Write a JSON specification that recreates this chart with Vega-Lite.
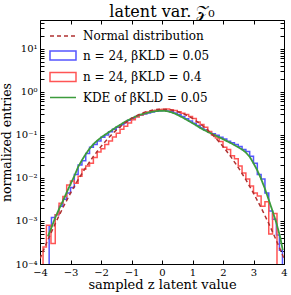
{
  "$schema": "https://vega.github.io/schema/vega-lite/v6.json",
  "width": 244,
  "height": 244,
  "autosize": {"type": "none"},
  "padding": {"left": 40, "top": 20, "right": 7, "bottom": 31},
  "title": {"text": "latent var. 𝒵₀", "fontSize": 16, "font": "DejaVu Serif", "fontWeight": "normal", "color": "#000", "offset": 3, "dy": 5},
  "datasets": {
    "hb": [
      {"s": "n = 24, βKLD = 0.05", "i": 0, "x": -3.7, "y": 0.000001},
      {"s": "n = 24, βKLD = 0.05", "i": 1, "x": -3.7, "y": 0.00075},
      {"s": "n = 24, βKLD = 0.05", "i": 2, "x": -3.625, "y": 0.0012},
      {"s": "n = 24, βKLD = 0.05", "i": 3, "x": -3.5, "y": 0.0014},
      {"s": "n = 24, βKLD = 0.05", "i": 4, "x": -3.375, "y": 0.0022},
      {"s": "n = 24, βKLD = 0.05", "i": 5, "x": -3.25, "y": 0.0032},
      {"s": "n = 24, βKLD = 0.05", "i": 6, "x": -3.125, "y": 0.0045},
      {"s": "n = 24, βKLD = 0.05", "i": 7, "x": -3.0, "y": 0.006},
      {"s": "n = 24, βKLD = 0.05", "i": 8, "x": -2.875, "y": 0.012},
      {"s": "n = 24, βKLD = 0.05", "i": 9, "x": -2.75, "y": 0.02},
      {"s": "n = 24, βKLD = 0.05", "i": 10, "x": -2.625, "y": 0.025},
      {"s": "n = 24, βKLD = 0.05", "i": 11, "x": -2.5, "y": 0.037},
      {"s": "n = 24, βKLD = 0.05", "i": 12, "x": -2.375, "y": 0.052},
      {"s": "n = 24, βKLD = 0.05", "i": 13, "x": -2.25, "y": 0.06},
      {"s": "n = 24, βKLD = 0.05", "i": 14, "x": -2.125, "y": 0.072},
      {"s": "n = 24, βKLD = 0.05", "i": 15, "x": -2.0, "y": 0.088},
      {"s": "n = 24, βKLD = 0.05", "i": 16, "x": -1.875, "y": 0.1},
      {"s": "n = 24, βKLD = 0.05", "i": 17, "x": -1.75, "y": 0.118},
      {"s": "n = 24, βKLD = 0.05", "i": 18, "x": -1.625, "y": 0.135},
      {"s": "n = 24, βKLD = 0.05", "i": 19, "x": -1.5, "y": 0.15},
      {"s": "n = 24, βKLD = 0.05", "i": 20, "x": -1.375, "y": 0.172},
      {"s": "n = 24, βKLD = 0.05", "i": 21, "x": -1.25, "y": 0.193},
      {"s": "n = 24, βKLD = 0.05", "i": 22, "x": -1.125, "y": 0.22},
      {"s": "n = 24, βKLD = 0.05", "i": 23, "x": -1.0, "y": 0.243},
      {"s": "n = 24, βKLD = 0.05", "i": 24, "x": -0.875, "y": 0.268},
      {"s": "n = 24, βKLD = 0.05", "i": 25, "x": -0.75, "y": 0.288},
      {"s": "n = 24, βKLD = 0.05", "i": 26, "x": -0.625, "y": 0.305},
      {"s": "n = 24, βKLD = 0.05", "i": 27, "x": -0.5, "y": 0.325},
      {"s": "n = 24, βKLD = 0.05", "i": 28, "x": -0.375, "y": 0.34},
      {"s": "n = 24, βKLD = 0.05", "i": 29, "x": -0.25, "y": 0.355},
      {"s": "n = 24, βKLD = 0.05", "i": 30, "x": -0.125, "y": 0.365},
      {"s": "n = 24, βKLD = 0.05", "i": 31, "x": 0.0, "y": 0.368},
      {"s": "n = 24, βKLD = 0.05", "i": 32, "x": 0.125, "y": 0.36},
      {"s": "n = 24, βKLD = 0.05", "i": 33, "x": 0.25, "y": 0.345},
      {"s": "n = 24, βKLD = 0.05", "i": 34, "x": 0.375, "y": 0.322},
      {"s": "n = 24, βKLD = 0.05", "i": 35, "x": 0.5, "y": 0.298},
      {"s": "n = 24, βKLD = 0.05", "i": 36, "x": 0.625, "y": 0.268},
      {"s": "n = 24, βKLD = 0.05", "i": 37, "x": 0.75, "y": 0.238},
      {"s": "n = 24, βKLD = 0.05", "i": 38, "x": 0.875, "y": 0.212},
      {"s": "n = 24, βKLD = 0.05", "i": 39, "x": 1.0, "y": 0.188},
      {"s": "n = 24, βKLD = 0.05", "i": 40, "x": 1.125, "y": 0.165},
      {"s": "n = 24, βKLD = 0.05", "i": 41, "x": 1.25, "y": 0.146},
      {"s": "n = 24, βKLD = 0.05", "i": 42, "x": 1.375, "y": 0.13},
      {"s": "n = 24, βKLD = 0.05", "i": 43, "x": 1.5, "y": 0.117},
      {"s": "n = 24, βKLD = 0.05", "i": 44, "x": 1.625, "y": 0.106},
      {"s": "n = 24, βKLD = 0.05", "i": 45, "x": 1.75, "y": 0.098},
      {"s": "n = 24, βKLD = 0.05", "i": 46, "x": 1.875, "y": 0.088},
      {"s": "n = 24, βKLD = 0.05", "i": 47, "x": 2.0, "y": 0.08},
      {"s": "n = 24, βKLD = 0.05", "i": 48, "x": 2.125, "y": 0.071},
      {"s": "n = 24, βKLD = 0.05", "i": 49, "x": 2.25, "y": 0.066},
      {"s": "n = 24, βKLD = 0.05", "i": 50, "x": 2.375, "y": 0.06},
      {"s": "n = 24, βKLD = 0.05", "i": 51, "x": 2.5, "y": 0.054},
      {"s": "n = 24, βKLD = 0.05", "i": 52, "x": 2.625, "y": 0.046},
      {"s": "n = 24, βKLD = 0.05", "i": 53, "x": 2.75, "y": 0.041},
      {"s": "n = 24, βKLD = 0.05", "i": 54, "x": 2.875, "y": 0.032},
      {"s": "n = 24, βKLD = 0.05", "i": 55, "x": 3.0, "y": 0.022},
      {"s": "n = 24, βKLD = 0.05", "i": 56, "x": 3.125, "y": 0.012},
      {"s": "n = 24, βKLD = 0.05", "i": 57, "x": 3.25, "y": 0.0095},
      {"s": "n = 24, βKLD = 0.05", "i": 58, "x": 3.375, "y": 0.0045},
      {"s": "n = 24, βKLD = 0.05", "i": 59, "x": 3.5, "y": 0.0017},
      {"s": "n = 24, βKLD = 0.05", "i": 60, "x": 3.625, "y": 0.0011},
      {"s": "n = 24, βKLD = 0.05", "i": 61, "x": 3.75, "y": 0.00047},
      {"s": "n = 24, βKLD = 0.05", "i": 62, "x": 3.85, "y": 0.00021},
      {"s": "n = 24, βKLD = 0.05", "i": 63, "x": 3.95, "y": 0.00021},
      {"s": "n = 24, βKLD = 0.05", "i": 64, "x": 3.95, "y": 0.000001}
    ],
    "hr": [
      {"s": "n = 24, βKLD = 0.4", "i": 0, "x": -3.9, "y": 0.000001},
      {"s": "n = 24, βKLD = 0.4", "i": 1, "x": -3.9, "y": 0.00025},
      {"s": "n = 24, βKLD = 0.4", "i": 2, "x": -3.79, "y": 0.0008},
      {"s": "n = 24, βKLD = 0.4", "i": 3, "x": -3.64, "y": 0.0003},
      {"s": "n = 24, βKLD = 0.4", "i": 4, "x": -3.5, "y": 0.0014},
      {"s": "n = 24, βKLD = 0.4", "i": 5, "x": -3.375, "y": 0.0026},
      {"s": "n = 24, βKLD = 0.4", "i": 6, "x": -3.25, "y": 0.0037},
      {"s": "n = 24, βKLD = 0.4", "i": 7, "x": -3.125, "y": 0.0069},
      {"s": "n = 24, βKLD = 0.4", "i": 8, "x": -3.0, "y": 0.0085},
      {"s": "n = 24, βKLD = 0.4", "i": 9, "x": -2.875, "y": 0.0075},
      {"s": "n = 24, βKLD = 0.4", "i": 10, "x": -2.75, "y": 0.011},
      {"s": "n = 24, βKLD = 0.4", "i": 11, "x": -2.625, "y": 0.016},
      {"s": "n = 24, βKLD = 0.4", "i": 12, "x": -2.5, "y": 0.019},
      {"s": "n = 24, βKLD = 0.4", "i": 13, "x": -2.375, "y": 0.022},
      {"s": "n = 24, βKLD = 0.4", "i": 14, "x": -2.25, "y": 0.03},
      {"s": "n = 24, βKLD = 0.4", "i": 15, "x": -2.125, "y": 0.04},
      {"s": "n = 24, βKLD = 0.4", "i": 16, "x": -2.0, "y": 0.048},
      {"s": "n = 24, βKLD = 0.4", "i": 17, "x": -1.875, "y": 0.06},
      {"s": "n = 24, βKLD = 0.4", "i": 18, "x": -1.75, "y": 0.072},
      {"s": "n = 24, βKLD = 0.4", "i": 19, "x": -1.625, "y": 0.09},
      {"s": "n = 24, βKLD = 0.4", "i": 20, "x": -1.5, "y": 0.11},
      {"s": "n = 24, βKLD = 0.4", "i": 21, "x": -1.375, "y": 0.135},
      {"s": "n = 24, βKLD = 0.4", "i": 22, "x": -1.25, "y": 0.16},
      {"s": "n = 24, βKLD = 0.4", "i": 23, "x": -1.125, "y": 0.19},
      {"s": "n = 24, βKLD = 0.4", "i": 24, "x": -1.0, "y": 0.225},
      {"s": "n = 24, βKLD = 0.4", "i": 25, "x": -0.875, "y": 0.26},
      {"s": "n = 24, βKLD = 0.4", "i": 26, "x": -0.75, "y": 0.29},
      {"s": "n = 24, βKLD = 0.4", "i": 27, "x": -0.625, "y": 0.315},
      {"s": "n = 24, βKLD = 0.4", "i": 28, "x": -0.5, "y": 0.34},
      {"s": "n = 24, βKLD = 0.4", "i": 29, "x": -0.375, "y": 0.36},
      {"s": "n = 24, βKLD = 0.4", "i": 30, "x": -0.25, "y": 0.375},
      {"s": "n = 24, βKLD = 0.4", "i": 31, "x": -0.125, "y": 0.39},
      {"s": "n = 24, βKLD = 0.4", "i": 32, "x": 0.0, "y": 0.395},
      {"s": "n = 24, βKLD = 0.4", "i": 33, "x": 0.125, "y": 0.4},
      {"s": "n = 24, βKLD = 0.4", "i": 34, "x": 0.25, "y": 0.385},
      {"s": "n = 24, βKLD = 0.4", "i": 35, "x": 0.375, "y": 0.37},
      {"s": "n = 24, βKLD = 0.4", "i": 36, "x": 0.5, "y": 0.345},
      {"s": "n = 24, βKLD = 0.4", "i": 37, "x": 0.625, "y": 0.32},
      {"s": "n = 24, βKLD = 0.4", "i": 38, "x": 0.75, "y": 0.3},
      {"s": "n = 24, βKLD = 0.4", "i": 39, "x": 0.875, "y": 0.27},
      {"s": "n = 24, βKLD = 0.4", "i": 40, "x": 1.0, "y": 0.24},
      {"s": "n = 24, βKLD = 0.4", "i": 41, "x": 1.125, "y": 0.2},
      {"s": "n = 24, βKLD = 0.4", "i": 42, "x": 1.25, "y": 0.175},
      {"s": "n = 24, βKLD = 0.4", "i": 43, "x": 1.375, "y": 0.15},
      {"s": "n = 24, βKLD = 0.4", "i": 44, "x": 1.5, "y": 0.12},
      {"s": "n = 24, βKLD = 0.4", "i": 45, "x": 1.625, "y": 0.1},
      {"s": "n = 24, βKLD = 0.4", "i": 46, "x": 1.75, "y": 0.085},
      {"s": "n = 24, βKLD = 0.4", "i": 47, "x": 1.875, "y": 0.07},
      {"s": "n = 24, βKLD = 0.4", "i": 48, "x": 2.0, "y": 0.052},
      {"s": "n = 24, βKLD = 0.4", "i": 49, "x": 2.125, "y": 0.046},
      {"s": "n = 24, βKLD = 0.4", "i": 50, "x": 2.25, "y": 0.033},
      {"s": "n = 24, βKLD = 0.4", "i": 51, "x": 2.375, "y": 0.028},
      {"s": "n = 24, βKLD = 0.4", "i": 52, "x": 2.5, "y": 0.019},
      {"s": "n = 24, βKLD = 0.4", "i": 53, "x": 2.625, "y": 0.013},
      {"s": "n = 24, βKLD = 0.4", "i": 54, "x": 2.75, "y": 0.0095},
      {"s": "n = 24, βKLD = 0.4", "i": 55, "x": 2.875, "y": 0.0065},
      {"s": "n = 24, βKLD = 0.4", "i": 56, "x": 3.0, "y": 0.0045},
      {"s": "n = 24, βKLD = 0.4", "i": 57, "x": 3.125, "y": 0.0038},
      {"s": "n = 24, βKLD = 0.4", "i": 58, "x": 3.25, "y": 0.0022},
      {"s": "n = 24, βKLD = 0.4", "i": 59, "x": 3.375, "y": 0.0028},
      {"s": "n = 24, βKLD = 0.4", "i": 60, "x": 3.5, "y": 0.0005},
      {"s": "n = 24, βKLD = 0.4", "i": 61, "x": 3.625, "y": 0.0015},
      {"s": "n = 24, βKLD = 0.4", "i": 62, "x": 3.77, "y": 0.0015},
      {"s": "n = 24, βKLD = 0.4", "i": 63, "x": 3.77, "y": 0.000001}
    ],
    "kde": [
      {"s": "KDE of βKLD = 0.05", "i": 0, "x": -3.74, "y": 0.00044},
      {"s": "KDE of βKLD = 0.05", "i": 1, "x": -3.625, "y": 0.0007},
      {"s": "KDE of βKLD = 0.05", "i": 2, "x": -3.5, "y": 0.0012},
      {"s": "KDE of βKLD = 0.05", "i": 3, "x": -3.375, "y": 0.0019},
      {"s": "KDE of βKLD = 0.05", "i": 4, "x": -3.25, "y": 0.0029},
      {"s": "KDE of βKLD = 0.05", "i": 5, "x": -3.125, "y": 0.0046},
      {"s": "KDE of βKLD = 0.05", "i": 6, "x": -3.0, "y": 0.0072},
      {"s": "KDE of βKLD = 0.05", "i": 7, "x": -2.875, "y": 0.011},
      {"s": "KDE of βKLD = 0.05", "i": 8, "x": -2.75, "y": 0.018},
      {"s": "KDE of βKLD = 0.05", "i": 9, "x": -2.625, "y": 0.026},
      {"s": "KDE of βKLD = 0.05", "i": 10, "x": -2.5, "y": 0.036},
      {"s": "KDE of βKLD = 0.05", "i": 11, "x": -2.375, "y": 0.048},
      {"s": "KDE of βKLD = 0.05", "i": 12, "x": -2.25, "y": 0.061},
      {"s": "KDE of βKLD = 0.05", "i": 13, "x": -2.125, "y": 0.074},
      {"s": "KDE of βKLD = 0.05", "i": 14, "x": -2.0, "y": 0.087},
      {"s": "KDE of βKLD = 0.05", "i": 15, "x": -1.875, "y": 0.101},
      {"s": "KDE of βKLD = 0.05", "i": 16, "x": -1.75, "y": 0.115},
      {"s": "KDE of βKLD = 0.05", "i": 17, "x": -1.625, "y": 0.132},
      {"s": "KDE of βKLD = 0.05", "i": 18, "x": -1.5, "y": 0.152},
      {"s": "KDE of βKLD = 0.05", "i": 19, "x": -1.375, "y": 0.172},
      {"s": "KDE of βKLD = 0.05", "i": 20, "x": -1.25, "y": 0.194},
      {"s": "KDE of βKLD = 0.05", "i": 21, "x": -1.125, "y": 0.218},
      {"s": "KDE of βKLD = 0.05", "i": 22, "x": -1.0, "y": 0.242},
      {"s": "KDE of βKLD = 0.05", "i": 23, "x": -0.875, "y": 0.266},
      {"s": "KDE of βKLD = 0.05", "i": 24, "x": -0.75, "y": 0.289},
      {"s": "KDE of βKLD = 0.05", "i": 25, "x": -0.625, "y": 0.308},
      {"s": "KDE of βKLD = 0.05", "i": 26, "x": -0.5, "y": 0.325},
      {"s": "KDE of βKLD = 0.05", "i": 27, "x": -0.375, "y": 0.34},
      {"s": "KDE of βKLD = 0.05", "i": 28, "x": -0.25, "y": 0.353},
      {"s": "KDE of βKLD = 0.05", "i": 29, "x": -0.125, "y": 0.362},
      {"s": "KDE of βKLD = 0.05", "i": 30, "x": 0.0, "y": 0.366},
      {"s": "KDE of βKLD = 0.05", "i": 31, "x": 0.125, "y": 0.36},
      {"s": "KDE of βKLD = 0.05", "i": 32, "x": 0.25, "y": 0.346},
      {"s": "KDE of βKLD = 0.05", "i": 33, "x": 0.375, "y": 0.323},
      {"s": "KDE of βKLD = 0.05", "i": 34, "x": 0.5, "y": 0.296},
      {"s": "KDE of βKLD = 0.05", "i": 35, "x": 0.625, "y": 0.266},
      {"s": "KDE of βKLD = 0.05", "i": 36, "x": 0.75, "y": 0.237},
      {"s": "KDE of βKLD = 0.05", "i": 37, "x": 0.875, "y": 0.211},
      {"s": "KDE of βKLD = 0.05", "i": 38, "x": 1.0, "y": 0.188},
      {"s": "KDE of βKLD = 0.05", "i": 39, "x": 1.125, "y": 0.166},
      {"s": "KDE of βKLD = 0.05", "i": 40, "x": 1.25, "y": 0.147},
      {"s": "KDE of βKLD = 0.05", "i": 41, "x": 1.375, "y": 0.131},
      {"s": "KDE of βKLD = 0.05", "i": 42, "x": 1.5, "y": 0.118},
      {"s": "KDE of βKLD = 0.05", "i": 43, "x": 1.625, "y": 0.107},
      {"s": "KDE of βKLD = 0.05", "i": 44, "x": 1.75, "y": 0.097},
      {"s": "KDE of βKLD = 0.05", "i": 45, "x": 1.875, "y": 0.088},
      {"s": "KDE of βKLD = 0.05", "i": 46, "x": 2.0, "y": 0.08},
      {"s": "KDE of βKLD = 0.05", "i": 47, "x": 2.125, "y": 0.072},
      {"s": "KDE of βKLD = 0.05", "i": 48, "x": 2.25, "y": 0.065},
      {"s": "KDE of βKLD = 0.05", "i": 49, "x": 2.375, "y": 0.058},
      {"s": "KDE of βKLD = 0.05", "i": 50, "x": 2.5, "y": 0.052},
      {"s": "KDE of βKLD = 0.05", "i": 51, "x": 2.625, "y": 0.046},
      {"s": "KDE of βKLD = 0.05", "i": 52, "x": 2.75, "y": 0.039},
      {"s": "KDE of βKLD = 0.05", "i": 53, "x": 2.875, "y": 0.031},
      {"s": "KDE of βKLD = 0.05", "i": 54, "x": 3.0, "y": 0.022},
      {"s": "KDE of βKLD = 0.05", "i": 55, "x": 3.125, "y": 0.015},
      {"s": "KDE of βKLD = 0.05", "i": 56, "x": 3.25, "y": 0.0095},
      {"s": "KDE of βKLD = 0.05", "i": 57, "x": 3.375, "y": 0.0056},
      {"s": "KDE of βKLD = 0.05", "i": 58, "x": 3.5, "y": 0.0031},
      {"s": "KDE of βKLD = 0.05", "i": 59, "x": 3.625, "y": 0.0017},
      {"s": "KDE of βKLD = 0.05", "i": 60, "x": 3.75, "y": 0.0009},
      {"s": "KDE of βKLD = 0.05", "i": 61, "x": 3.875, "y": 0.00042},
      {"s": "KDE of βKLD = 0.05", "i": 62, "x": 3.96, "y": 0.00021}
    ],
    "norm": [
      {"s": "Normal distribution", "i": 0, "x": -4.0, "y": 0.0001338},
      {"s": "Normal distribution", "i": 1, "x": -3.75, "y": 0.0003526},
      {"s": "Normal distribution", "i": 2, "x": -3.5, "y": 0.0008727},
      {"s": "Normal distribution", "i": 3, "x": -3.25, "y": 0.002029},
      {"s": "Normal distribution", "i": 4, "x": -3.0, "y": 0.004432},
      {"s": "Normal distribution", "i": 5, "x": -2.75, "y": 0.00909},
      {"s": "Normal distribution", "i": 6, "x": -2.5, "y": 0.01753},
      {"s": "Normal distribution", "i": 7, "x": -2.25, "y": 0.03174},
      {"s": "Normal distribution", "i": 8, "x": -2.0, "y": 0.05399},
      {"s": "Normal distribution", "i": 9, "x": -1.75, "y": 0.08628},
      {"s": "Normal distribution", "i": 10, "x": -1.5, "y": 0.12952},
      {"s": "Normal distribution", "i": 11, "x": -1.25, "y": 0.18265},
      {"s": "Normal distribution", "i": 12, "x": -1.0, "y": 0.24197},
      {"s": "Normal distribution", "i": 13, "x": -0.75, "y": 0.30114},
      {"s": "Normal distribution", "i": 14, "x": -0.5, "y": 0.35207},
      {"s": "Normal distribution", "i": 15, "x": -0.25, "y": 0.38667},
      {"s": "Normal distribution", "i": 16, "x": 0.0, "y": 0.39894},
      {"s": "Normal distribution", "i": 17, "x": 0.25, "y": 0.38667},
      {"s": "Normal distribution", "i": 18, "x": 0.5, "y": 0.35207},
      {"s": "Normal distribution", "i": 19, "x": 0.75, "y": 0.30114},
      {"s": "Normal distribution", "i": 20, "x": 1.0, "y": 0.24197},
      {"s": "Normal distribution", "i": 21, "x": 1.25, "y": 0.18265},
      {"s": "Normal distribution", "i": 22, "x": 1.5, "y": 0.12952},
      {"s": "Normal distribution", "i": 23, "x": 1.75, "y": 0.08628},
      {"s": "Normal distribution", "i": 24, "x": 2.0, "y": 0.05399},
      {"s": "Normal distribution", "i": 25, "x": 2.25, "y": 0.03174},
      {"s": "Normal distribution", "i": 26, "x": 2.5, "y": 0.01753},
      {"s": "Normal distribution", "i": 27, "x": 2.75, "y": 0.00909},
      {"s": "Normal distribution", "i": 28, "x": 3.0, "y": 0.004432},
      {"s": "Normal distribution", "i": 29, "x": 3.25, "y": 0.002029},
      {"s": "Normal distribution", "i": 30, "x": 3.5, "y": 0.0008727},
      {"s": "Normal distribution", "i": 31, "x": 3.75, "y": 0.0003526},
      {"s": "Normal distribution", "i": 32, "x": 4.0, "y": 0.0001338}
    ]
  },
  "config": {
    "font": "DejaVu Serif",
    "view": {"stroke": "#000", "strokeWidth": 1},
    "axis": {"domain": false, "grid": false, "tickColor": "#000", "tickWidth": 1, "labelColor": "#000", "labelFont": "DejaVu Serif", "labelFontSize": 10, "titleFont": "DejaVu Serif", "titleFontSize": 13, "titleFontWeight": "normal", "titleColor": "#000", "labelOverlap": false, "labelFlush": false},
    "legend": {
      "orient": "top-left", "offset": 9, "padding": 0, "symbolSize": 144, "symbolStrokeWidth": 1.5,
      "labelFont": "DejaVu Serif", "labelFontSize": 12, "labelColor": "#000", "labelOffset": 20, "rowPadding": 5.5, "labelLimit": 220
    }
  },
  "resolve": {"axis": {"x": "independent", "y": "independent"}},
  "encoding": {
    "x": {"field": "x", "type": "quantitative", "scale": {"domain": [-4, 4], "nice": false, "zero": false}},
    "y": {"field": "y", "type": "quantitative", "scale": {"type": "log", "domain": [0.0001, 47], "nice": false}},
    "order": {"field": "i", "type": "quantitative"},
    "color": {"field": "s", "type": "nominal", "title": null,
      "scale": {"domain": ["Normal distribution", "n = 24, βKLD = 0.05", "n = 24, βKLD = 0.4", "KDE of βKLD = 0.05"], "range": ["#b03030", "#5555ff", "#ff5555", "#3c9c3c"]},
      "legend": {"title": null, "encode": {"symbols": {"update": {"shape": {"signal": "indexof(['n = 24, βKLD = 0.05', 'n = 24, βKLD = 0.4'], datum.value) >= 0 ? 'M-1,-0.75H3.333V0.75H-1Z' : 'M-1,0H3.333'"}, "fill": {"value": "transparent"}}}}}},
    "strokeDash": {"field": "s", "type": "nominal", "title": null,
      "scale": {"domain": ["Normal distribution", "n = 24, βKLD = 0.05", "n = 24, βKLD = 0.4", "KDE of βKLD = 0.05"], "range": [[4, 3], [1, 0], [1, 0], [1, 0]]},
      "legend": {"title": null}}
  },
  "layer": [
    {
      "data": {"name": "hb"},
      "mark": {"type": "line", "interpolate": "step-after", "clip": true, "strokeWidth": 1.5},
      "encoding": {
        "x": {"field": "x", "type": "quantitative", "axis": {"orient": "bottom", "title": "sampled z latent value", "values": [-4, -3, -2, -1, 0, 1, 2, 3, 4], "format": "d", "tickSize": -4, "labelPadding": 7, "titlePadding": 1}},
        "y": {"field": "y", "type": "quantitative", "axis": {"orient": "left", "title": "normalized entries", "titlePadding": 1, "titleFontSize": 12.5,
          "values": [0.0001, 0.0002, 0.0003, 0.0004, 0.0005, 0.0006, 0.0007, 0.0008, 0.0009, 0.001, 0.002, 0.003, 0.004, 0.005, 0.006, 0.007, 0.008, 0.009, 0.01, 0.02, 0.03, 0.04, 0.05, 0.06, 0.07, 0.08, 0.09, 0.1, 0.2, 0.3, 0.4, 0.5, 0.6, 0.7, 0.8, 0.9, 1, 2, 3, 4, 5, 6, 7, 8, 9, 10, 20, 30, 40],
          "labelExpr": "abs(log(datum.value)/LN10 - round(log(datum.value)/LN10)) < 0.001 ? '10' + replace(replace(replace(replace(replace(replace(toString(round(log(datum.value)/LN10)), '-', '⁻'), '0', '⁰'), '1', '¹'), '2', '²'), '3', '³'), '4', '⁴') : ''",
          "tickSize": -4, "labelPadding": 7,
          "encode": {"ticks": {"update": {"x2": {"signal": "abs(log(datum.value)/LN10 - round(log(datum.value)/LN10)) < 0.001 ? 4 : 2"}}}}}}
      }
    },
    {
      "data": {"name": "hr"},
      "mark": {"type": "line", "interpolate": "step-after", "clip": true, "strokeWidth": 1.5},
      "encoding": {
        "x": {"field": "x", "type": "quantitative", "axis": null},
        "y": {"field": "y", "type": "quantitative", "axis": null}
      }
    },
    {
      "data": {"name": "kde"},
      "mark": {"type": "line", "clip": true, "strokeWidth": 1.8},
      "encoding": {
        "x": {"field": "x", "type": "quantitative", "axis": {"orient": "top", "title": null, "labels": false, "values": [-4, -3, -2, -1, 0, 1, 2, 3, 4], "tickSize": -4}},
        "y": {"field": "y", "type": "quantitative", "axis": {"orient": "right", "title": null, "labels": false,
          "values": [0.0001, 0.0002, 0.0003, 0.0004, 0.0005, 0.0006, 0.0007, 0.0008, 0.0009, 0.001, 0.002, 0.003, 0.004, 0.005, 0.006, 0.007, 0.008, 0.009, 0.01, 0.02, 0.03, 0.04, 0.05, 0.06, 0.07, 0.08, 0.09, 0.1, 0.2, 0.3, 0.4, 0.5, 0.6, 0.7, 0.8, 0.9, 1, 2, 3, 4, 5, 6, 7, 8, 9, 10, 20, 30, 40],
          "tickSize": -4,
          "encode": {"ticks": {"update": {"x2": {"signal": "abs(log(datum.value)/LN10 - round(log(datum.value)/LN10)) < 0.001 ? -4 : -2"}}}}}}
      }
    },
    {
      "data": {"name": "norm"},
      "mark": {"type": "line", "clip": true, "strokeWidth": 1.5},
      "encoding": {
        "x": {"field": "x", "type": "quantitative", "axis": null},
        "y": {"field": "y", "type": "quantitative", "axis": null}
      }
    }
  ]
}
